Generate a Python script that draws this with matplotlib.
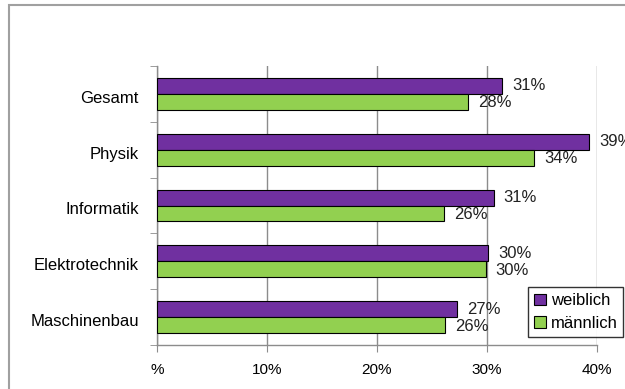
import matplotlib.pyplot as plt
import numpy as np
from matplotlib.patches import Rectangle

plt.rcParams['font.family'] = ['Liberation Sans', 'DejaVu Sans']

categories = ['Gesamt', 'Physik', 'Informatik', 'Elektrotechnik', 'Maschinenbau']
weiblich = [31.4, 39.3, 30.6, 30.1, 27.3]
maennlich = [28.3, 34.3, 26.1, 29.9, 26.2]
weiblich_labels = ['31%', '39%', '31%', '30%', '27%']
maennlich_labels = ['28%', '34%', '26%', '30%', '26%']
xticks = [0, 10, 20, 30, 40]
xtick_labels = ['%', '10%', '20%', '30%', '40%']

fig = plt.figure(figsize=(6.25, 3.89), dpi=100)
ax = fig.add_axes([0.2512, 0.1131, 0.704, 0.7172])

# outer chart frame
fig.patches.append(Rectangle((9 / 625, -0.1), 1.2, 1 - 5 / 389 + 0.1,
                             transform=fig.transFigure, fill=False,
                             edgecolor='#a0a0a0', linewidth=1.5))

y = np.arange(len(categories))
h = 0.285
gray = '#8c8c8c'
fs = 12

ax.barh(y - h / 2, weiblich, height=h, color='#7030A0', edgecolor='black',
        linewidth=0.8, label='weiblich', zorder=3)
ax.barh(y + h / 2, maennlich, height=h, color='#92D050', edgecolor='black',
        linewidth=0.8, label='männlich', zorder=3)

for i in range(len(categories)):
    ax.text(weiblich[i] + 0.9, y[i] - h / 2, weiblich_labels[i], va='center',
            ha='left', fontsize=fs, color='#222222')
    ax.text(maennlich[i] + 0.9, y[i] + h / 2 + 0.02, maennlich_labels[i],
            va='center', ha='left', fontsize=fs, color='#222222')

ax.set_xlim(0, 40)
ax.set_ylim(len(categories) - 0.5, -0.5)
ax.set_xticks(xticks)
ax.set_xticklabels(xtick_labels, fontsize=11)
ax.set_yticks(y + 0.05)
ax.set_yticklabels(categories, fontsize=fs)
ax.set_yticks(np.arange(-0.5, len(categories)), minor=True)
ax.tick_params(axis='y', which='major', length=0, pad=13)
ax.tick_params(axis='y', which='minor', length=5, color=gray, direction='out')
ax.tick_params(axis='x', length=5, color=gray, pad=8)

ax.grid(axis='x', color=gray, linewidth=1, zorder=0)
for s in ['top', 'right']:
    ax.spines[s].set_visible(False)
for s in ['left', 'bottom']:
    ax.spines[s].set_color(gray)
    ax.spines[s].set_linewidth(1)

leg = ax.legend(loc='lower right', bbox_to_anchor=(1.06, 0.03), fontsize=fs,
                frameon=True, fancybox=False, edgecolor='black',
                handlelength=0.7, handleheight=0.7, handletextpad=0.3,
                borderpad=0.35, labelspacing=0.45, borderaxespad=0)
leg.get_frame().set_linewidth(1)
leg.set_zorder(5)

fig.savefig('out.png', dpi=100)
